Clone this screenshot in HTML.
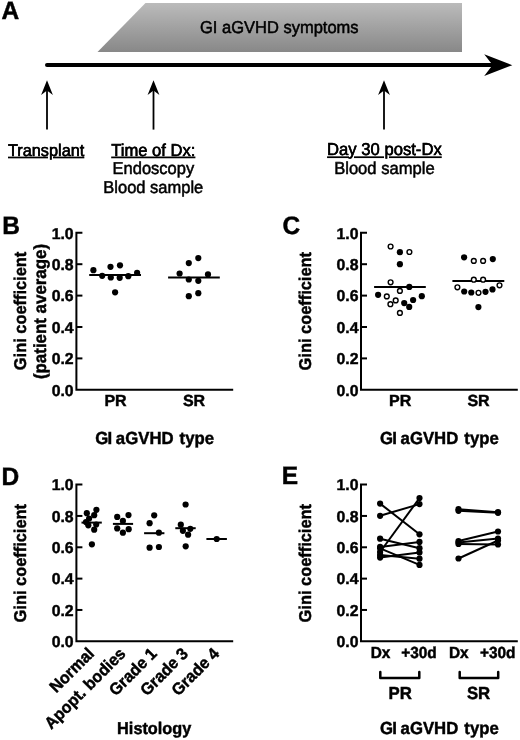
<!DOCTYPE html>
<html><head><meta charset="utf-8"><style>
html,body{margin:0;padding:0;background:#fff;width:520px;height:740px;overflow:hidden;font-family:"Liberation Sans",sans-serif;}
svg{display:block;filter:grayscale(1);}
</style></head><body>
<svg width="520" height="740" viewBox="0 0 520 740"><text transform="translate(1.40,19.00) scale(1,1.03)" font-family="Liberation Sans, sans-serif" text-rendering="geometricPrecision" font-size="24.5" font-weight="bold" text-anchor="start" stroke="#000" stroke-width="0.45">A</text>
<defs><linearGradient id="g" x1="0" y1="0" x2="0" y2="1"><stop offset="0" stop-color="#bbbbbb"/><stop offset="1" stop-color="#888888"/></linearGradient></defs>
<polygon points="145.5,3 462,3 462,52 97.5,52" fill="url(#g)"/>
<text transform="translate(200.00,32.70) scale(1,1.04)" font-family="Liberation Sans, sans-serif" text-rendering="geometricPrecision" font-size="16.5" text-anchor="start" stroke="#000" stroke-width="0.5">GI aGVHD symptoms</text>
<line x1="47" y1="65" x2="494" y2="65" stroke="#000" stroke-width="4" stroke-linecap="round"/>
<polygon points="484.2,54.3 512.3,65.2 484.2,76 492.6,65.1" fill="#000"/>
<line x1="47" y1="90" x2="47" y2="129.6" stroke="#000" stroke-width="1.8"/>
<polygon points="47,80.3 52.9,95 47,90.5 41.1,95" fill="#000"/>
<line x1="153.5" y1="90" x2="153.5" y2="129.6" stroke="#000" stroke-width="1.8"/>
<polygon points="153.5,80.3 159.4,95 153.5,90.5 147.6,95" fill="#000"/>
<line x1="384" y1="90" x2="384" y2="129.6" stroke="#000" stroke-width="1.8"/>
<polygon points="384,80.3 389.9,95 384,90.5 378.1,95" fill="#000"/>
<text transform="translate(8.00,155.60) scale(1,1.04)" font-family="Liberation Sans, sans-serif" text-rendering="geometricPrecision" font-size="16.3" text-anchor="start" stroke="#000" stroke-width="0.5">Transplant</text>
<text transform="translate(8.00,155.60) scale(1,1.04)" font-family="Liberation Sans, sans-serif" text-rendering="geometricPrecision" font-size="16.3" text-anchor="start" text-decoration="underline">Transplant</text>
<text transform="translate(153.30,155.50) scale(1,1.04)" font-family="Liberation Sans, sans-serif" text-rendering="geometricPrecision" font-size="16.6" text-anchor="middle" stroke="#000" stroke-width="0.5">Time of Dx:</text>
<text transform="translate(153.30,155.50) scale(1,1.04)" font-family="Liberation Sans, sans-serif" text-rendering="geometricPrecision" font-size="16.6" text-anchor="middle" text-decoration="underline">Time of Dx:</text>
<text transform="translate(153.40,174.40) scale(1,1.04)" font-family="Liberation Sans, sans-serif" text-rendering="geometricPrecision" font-size="16.5" text-anchor="middle" stroke="#000" stroke-width="0.5">Endoscopy</text>
<text transform="translate(153.30,193.20) scale(1,1.04)" font-family="Liberation Sans, sans-serif" text-rendering="geometricPrecision" font-size="16.5" text-anchor="middle" stroke="#000" stroke-width="0.5">Blood sample</text>
<text transform="translate(384.40,155.30) scale(1,1.04)" font-family="Liberation Sans, sans-serif" text-rendering="geometricPrecision" font-size="16.65" text-anchor="middle" stroke="#000" stroke-width="0.5">Day 30 post-Dx</text>
<text transform="translate(384.40,155.30) scale(1,1.04)" font-family="Liberation Sans, sans-serif" text-rendering="geometricPrecision" font-size="16.65" text-anchor="middle" text-decoration="underline">Day 30 post-Dx</text>
<text transform="translate(384.40,174.30) scale(1,1.04)" font-family="Liberation Sans, sans-serif" text-rendering="geometricPrecision" font-size="16.6" text-anchor="middle" stroke="#000" stroke-width="0.5">Blood sample</text>
<text transform="translate(2.26,233.50) scale(1,1.03)" font-family="Liberation Sans, sans-serif" text-rendering="geometricPrecision" font-size="24.5" font-weight="bold" text-anchor="start" stroke="#000" stroke-width="0.45">B</text>
<path d="M82.4,232.8 H76.4 V389.8 H233.2" fill="none" stroke="#000" stroke-width="2"/>
<line x1="76.4" y1="264.20" x2="82.4" y2="264.20" stroke="#000" stroke-width="2"/>
<line x1="76.4" y1="295.60" x2="82.4" y2="295.60" stroke="#000" stroke-width="2"/>
<line x1="76.4" y1="327.00" x2="82.4" y2="327.00" stroke="#000" stroke-width="2"/>
<line x1="76.4" y1="358.40" x2="82.4" y2="358.40" stroke="#000" stroke-width="2"/>
<text transform="translate(73.60,238.60)" font-family="Liberation Sans, sans-serif" text-rendering="geometricPrecision" font-size="15.8" font-weight="bold" text-anchor="end" stroke="#000" stroke-width="0.45">1.0</text>
<text transform="translate(73.60,270.00)" font-family="Liberation Sans, sans-serif" text-rendering="geometricPrecision" font-size="15.8" font-weight="bold" text-anchor="end" stroke="#000" stroke-width="0.45">0.8</text>
<text transform="translate(73.60,301.40)" font-family="Liberation Sans, sans-serif" text-rendering="geometricPrecision" font-size="15.8" font-weight="bold" text-anchor="end" stroke="#000" stroke-width="0.45">0.6</text>
<text transform="translate(73.60,332.80)" font-family="Liberation Sans, sans-serif" text-rendering="geometricPrecision" font-size="15.8" font-weight="bold" text-anchor="end" stroke="#000" stroke-width="0.45">0.4</text>
<text transform="translate(73.60,364.20)" font-family="Liberation Sans, sans-serif" text-rendering="geometricPrecision" font-size="15.8" font-weight="bold" text-anchor="end" stroke="#000" stroke-width="0.45">0.2</text>
<text transform="translate(73.60,395.60)" font-family="Liberation Sans, sans-serif" text-rendering="geometricPrecision" font-size="15.8" font-weight="bold" text-anchor="end" stroke="#000" stroke-width="0.45">0.0</text>
<text transform="translate(25.90,310.95) rotate(-90) scale(1,1.04)" font-family="Liberation Sans, sans-serif" text-rendering="geometricPrecision" font-size="16.4" font-weight="bold" text-anchor="middle" stroke="#000" stroke-width="0.45">Gini coefficient</text>
<text transform="translate(46.20,311.50) rotate(-90) scale(1,1.04)" font-family="Liberation Sans, sans-serif" text-rendering="geometricPrecision" font-size="16.9" font-weight="bold" text-anchor="middle" stroke="#000" stroke-width="0.45">(patient average)</text>
<line x1="89.2" y1="275.0" x2="141" y2="275.0" stroke="#000" stroke-width="2"/>
<circle cx="93.4" cy="270.2" r="3.1" fill="#000"/>
<circle cx="102.2" cy="275.8" r="3.1" fill="#000"/>
<circle cx="110.5" cy="266.8" r="3.1" fill="#000"/>
<circle cx="110.8" cy="277.5" r="3.1" fill="#000"/>
<circle cx="115.1" cy="292.3" r="3.1" fill="#000"/>
<circle cx="120.0" cy="265.3" r="3.1" fill="#000"/>
<circle cx="119.7" cy="277.8" r="3.1" fill="#000"/>
<circle cx="128.3" cy="276.2" r="3.1" fill="#000"/>
<circle cx="137.1" cy="272.8" r="3.1" fill="#000"/>
<line x1="168.1" y1="277.4" x2="219.8" y2="277.4" stroke="#000" stroke-width="2"/>
<circle cx="179.6" cy="273.5" r="3.1" fill="#000"/>
<circle cx="188.8" cy="263.1" r="3.1" fill="#000"/>
<circle cx="188.8" cy="279.5" r="3.1" fill="#000"/>
<circle cx="188.8" cy="296.2" r="3.1" fill="#000"/>
<circle cx="198.3" cy="258.1" r="3.1" fill="#000"/>
<circle cx="198.3" cy="280.8" r="3.1" fill="#000"/>
<circle cx="198.3" cy="293.2" r="3.1" fill="#000"/>
<circle cx="208.0" cy="274.4" r="3.1" fill="#000"/>
<text transform="translate(115.50,406.20)" font-family="Liberation Sans, sans-serif" text-rendering="geometricPrecision" font-size="16" font-weight="bold" text-anchor="middle" stroke="#000" stroke-width="0.45">PR</text>
<text transform="translate(194.00,406.20)" font-family="Liberation Sans, sans-serif" text-rendering="geometricPrecision" font-size="16" font-weight="bold" text-anchor="middle" stroke="#000" stroke-width="0.45">SR</text>
<text transform="translate(154.70,443.90) scale(1,1.04)" font-family="Liberation Sans, sans-serif" text-rendering="geometricPrecision" font-size="16.75" font-weight="bold" text-anchor="middle" stroke="#000" stroke-width="0.45">G<tspan dx="-0.8">I</tspan><tspan dx="-1.0"> aGVHD</tspan><tspan dx="1.4"> type</tspan></text>
<text transform="translate(282.50,233.60) scale(1,1.03)" font-family="Liberation Sans, sans-serif" text-rendering="geometricPrecision" font-size="24.5" font-weight="bold" text-anchor="start" stroke="#000" stroke-width="0.45">C</text>
<path d="M367,232.8 H361 V389.8 H517.8" fill="none" stroke="#000" stroke-width="2"/>
<line x1="361" y1="264.20" x2="367" y2="264.20" stroke="#000" stroke-width="2"/>
<line x1="361" y1="295.60" x2="367" y2="295.60" stroke="#000" stroke-width="2"/>
<line x1="361" y1="327.00" x2="367" y2="327.00" stroke="#000" stroke-width="2"/>
<line x1="361" y1="358.40" x2="367" y2="358.40" stroke="#000" stroke-width="2"/>
<text transform="translate(358.50,238.60)" font-family="Liberation Sans, sans-serif" text-rendering="geometricPrecision" font-size="15.8" font-weight="bold" text-anchor="end" stroke="#000" stroke-width="0.45">1.0</text>
<text transform="translate(358.50,270.00)" font-family="Liberation Sans, sans-serif" text-rendering="geometricPrecision" font-size="15.8" font-weight="bold" text-anchor="end" stroke="#000" stroke-width="0.45">0.8</text>
<text transform="translate(358.50,301.40)" font-family="Liberation Sans, sans-serif" text-rendering="geometricPrecision" font-size="15.8" font-weight="bold" text-anchor="end" stroke="#000" stroke-width="0.45">0.6</text>
<text transform="translate(358.50,332.80)" font-family="Liberation Sans, sans-serif" text-rendering="geometricPrecision" font-size="15.8" font-weight="bold" text-anchor="end" stroke="#000" stroke-width="0.45">0.4</text>
<text transform="translate(358.50,364.20)" font-family="Liberation Sans, sans-serif" text-rendering="geometricPrecision" font-size="15.8" font-weight="bold" text-anchor="end" stroke="#000" stroke-width="0.45">0.2</text>
<text transform="translate(358.50,395.60)" font-family="Liberation Sans, sans-serif" text-rendering="geometricPrecision" font-size="15.8" font-weight="bold" text-anchor="end" stroke="#000" stroke-width="0.45">0.0</text>
<text transform="translate(310.90,311.20) rotate(-90) scale(1,1.04)" font-family="Liberation Sans, sans-serif" text-rendering="geometricPrecision" font-size="16.4" font-weight="bold" text-anchor="middle" stroke="#000" stroke-width="0.45">Gini coefficient</text>
<line x1="374.1" y1="286.9" x2="425.8" y2="286.9" stroke="#000" stroke-width="2"/>
<circle cx="399.9" cy="252.2" r="3.1" fill="#000"/>
<circle cx="399.9" cy="264.2" r="3.1" fill="#000"/>
<circle cx="409.3" cy="286.9" r="3.1" fill="#000"/>
<circle cx="378.1" cy="294.8" r="3.1" fill="#000"/>
<circle cx="421.8" cy="296.2" r="3.1" fill="#000"/>
<circle cx="413.1" cy="300.0" r="3.1" fill="#000"/>
<circle cx="404.2" cy="303.1" r="3.1" fill="#000"/>
<circle cx="409.2" cy="306.9" r="3.1" fill="#000"/>
<circle cx="390.6" cy="246.5" r="2.4" fill="#fff" stroke="#000" stroke-width="1.4"/>
<circle cx="409.4" cy="252.0" r="2.4" fill="#fff" stroke="#000" stroke-width="1.4"/>
<circle cx="390.6" cy="282.3" r="2.4" fill="#fff" stroke="#000" stroke-width="1.4"/>
<circle cx="399.9" cy="290.9" r="2.4" fill="#fff" stroke="#000" stroke-width="1.4"/>
<circle cx="386.8" cy="296.4" r="2.4" fill="#fff" stroke="#000" stroke-width="1.4"/>
<circle cx="395.7" cy="300.4" r="2.4" fill="#fff" stroke="#000" stroke-width="1.4"/>
<circle cx="390.4" cy="304.2" r="2.4" fill="#fff" stroke="#000" stroke-width="1.4"/>
<circle cx="399.9" cy="312.9" r="2.4" fill="#fff" stroke="#000" stroke-width="1.4"/>
<line x1="452.4" y1="281.0" x2="504.3" y2="281.0" stroke="#000" stroke-width="2"/>
<circle cx="464.1" cy="257.3" r="3.1" fill="#000"/>
<circle cx="492.8" cy="259.1" r="3.1" fill="#000"/>
<circle cx="464.2" cy="291.5" r="3.1" fill="#000"/>
<circle cx="471.3" cy="292.5" r="3.1" fill="#000"/>
<circle cx="485.5" cy="291.8" r="3.1" fill="#000"/>
<circle cx="492.5" cy="289.4" r="3.1" fill="#000"/>
<circle cx="478.4" cy="307.1" r="3.1" fill="#000"/>
<circle cx="473.8" cy="260.9" r="2.4" fill="#fff" stroke="#000" stroke-width="1.4"/>
<circle cx="483.1" cy="260.9" r="2.4" fill="#fff" stroke="#000" stroke-width="1.4"/>
<circle cx="473.8" cy="279.7" r="2.4" fill="#fff" stroke="#000" stroke-width="1.4"/>
<circle cx="483.1" cy="279.7" r="2.4" fill="#fff" stroke="#000" stroke-width="1.4"/>
<circle cx="457.4" cy="287.3" r="2.4" fill="#fff" stroke="#000" stroke-width="1.4"/>
<circle cx="478.5" cy="292.8" r="2.4" fill="#fff" stroke="#000" stroke-width="1.4"/>
<circle cx="499.5" cy="285.3" r="2.4" fill="#fff" stroke="#000" stroke-width="1.4"/>
<text transform="translate(400.10,406.20)" font-family="Liberation Sans, sans-serif" text-rendering="geometricPrecision" font-size="16" font-weight="bold" text-anchor="middle" stroke="#000" stroke-width="0.45">PR</text>
<text transform="translate(478.50,406.20)" font-family="Liberation Sans, sans-serif" text-rendering="geometricPrecision" font-size="16" font-weight="bold" text-anchor="middle" stroke="#000" stroke-width="0.45">SR</text>
<text transform="translate(439.40,443.90) scale(1,1.04)" font-family="Liberation Sans, sans-serif" text-rendering="geometricPrecision" font-size="16.75" font-weight="bold" text-anchor="middle" stroke="#000" stroke-width="0.45">G<tspan dx="-0.8">I</tspan><tspan dx="-1.0"> aGVHD</tspan><tspan dx="1.4"> type</tspan></text>
<text transform="translate(1.56,485.40) scale(1,1.03)" font-family="Liberation Sans, sans-serif" text-rendering="geometricPrecision" font-size="24.5" font-weight="bold" text-anchor="start" stroke="#000" stroke-width="0.45">D</text>
<path d="M82.4,484.6 H76.4 V641.3 H233.2" fill="none" stroke="#000" stroke-width="2"/>
<line x1="76.4" y1="515.94" x2="82.4" y2="515.94" stroke="#000" stroke-width="2"/>
<line x1="76.4" y1="547.28" x2="82.4" y2="547.28" stroke="#000" stroke-width="2"/>
<line x1="76.4" y1="578.62" x2="82.4" y2="578.62" stroke="#000" stroke-width="2"/>
<line x1="76.4" y1="609.96" x2="82.4" y2="609.96" stroke="#000" stroke-width="2"/>
<text transform="translate(73.60,490.40)" font-family="Liberation Sans, sans-serif" text-rendering="geometricPrecision" font-size="15.8" font-weight="bold" text-anchor="end" stroke="#000" stroke-width="0.45">1.0</text>
<text transform="translate(73.60,521.74)" font-family="Liberation Sans, sans-serif" text-rendering="geometricPrecision" font-size="15.8" font-weight="bold" text-anchor="end" stroke="#000" stroke-width="0.45">0.8</text>
<text transform="translate(73.60,553.08)" font-family="Liberation Sans, sans-serif" text-rendering="geometricPrecision" font-size="15.8" font-weight="bold" text-anchor="end" stroke="#000" stroke-width="0.45">0.6</text>
<text transform="translate(73.60,584.42)" font-family="Liberation Sans, sans-serif" text-rendering="geometricPrecision" font-size="15.8" font-weight="bold" text-anchor="end" stroke="#000" stroke-width="0.45">0.4</text>
<text transform="translate(73.60,615.76)" font-family="Liberation Sans, sans-serif" text-rendering="geometricPrecision" font-size="15.8" font-weight="bold" text-anchor="end" stroke="#000" stroke-width="0.45">0.2</text>
<text transform="translate(73.60,647.10)" font-family="Liberation Sans, sans-serif" text-rendering="geometricPrecision" font-size="15.8" font-weight="bold" text-anchor="end" stroke="#000" stroke-width="0.45">0.0</text>
<text transform="translate(25.70,563.20) rotate(-90) scale(1,1.04)" font-family="Liberation Sans, sans-serif" text-rendering="geometricPrecision" font-size="16.4" font-weight="bold" text-anchor="middle" stroke="#000" stroke-width="0.45">Gini coefficient</text>
<line x1="81.5" y1="522.6" x2="101.8" y2="522.6" stroke="#000" stroke-width="2"/>
<circle cx="96.4" cy="509.8" r="3.1" fill="#000"/>
<circle cx="86.8" cy="513.2" r="3.1" fill="#000"/>
<circle cx="94.2" cy="515.2" r="3.1" fill="#000"/>
<circle cx="89.1" cy="518.6" r="3.1" fill="#000"/>
<circle cx="86.0" cy="522.0" r="3.1" fill="#000"/>
<circle cx="88.3" cy="525.3" r="3.1" fill="#000"/>
<circle cx="96.2" cy="524.5" r="3.1" fill="#000"/>
<circle cx="94.2" cy="529.7" r="3.1" fill="#000"/>
<circle cx="91.9" cy="544.3" r="3.1" fill="#000"/>
<line x1="112.9" y1="523.9" x2="133.1" y2="523.9" stroke="#000" stroke-width="2"/>
<circle cx="117.2" cy="516.9" r="3.1" fill="#000"/>
<circle cx="128.5" cy="515.1" r="3.1" fill="#000"/>
<circle cx="122.9" cy="520.9" r="3.1" fill="#000"/>
<circle cx="117.2" cy="528.4" r="3.1" fill="#000"/>
<circle cx="122.9" cy="532.7" r="3.1" fill="#000"/>
<circle cx="128.7" cy="529.2" r="3.1" fill="#000"/>
<line x1="144.1" y1="533.2" x2="164.4" y2="533.2" stroke="#000" stroke-width="2"/>
<circle cx="154.2" cy="515.3" r="3.1" fill="#000"/>
<circle cx="149.6" cy="523.2" r="3.1" fill="#000"/>
<circle cx="158.9" cy="532.7" r="3.1" fill="#000"/>
<circle cx="149.6" cy="547.7" r="3.1" fill="#000"/>
<circle cx="158.9" cy="547.0" r="3.1" fill="#000"/>
<line x1="175.3" y1="528.2" x2="195.7" y2="528.2" stroke="#000" stroke-width="2"/>
<circle cx="185.6" cy="504.5" r="3.1" fill="#000"/>
<circle cx="180.8" cy="524.7" r="3.1" fill="#000"/>
<circle cx="182.9" cy="530.8" r="3.1" fill="#000"/>
<circle cx="190.3" cy="528.8" r="3.1" fill="#000"/>
<circle cx="188.1" cy="534.7" r="3.1" fill="#000"/>
<circle cx="185.7" cy="546.3" r="3.1" fill="#000"/>
<line x1="206.4" y1="539.0" x2="226.9" y2="539.0" stroke="#000" stroke-width="2"/>
<circle cx="216.7" cy="539.0" r="3.1" fill="#000"/>
<text transform="translate(95.20,654.60) rotate(-45) scale(1,1.04)" font-family="Liberation Sans, sans-serif" text-rendering="geometricPrecision" font-size="16" font-weight="bold" text-anchor="end" stroke="#000" stroke-width="0.45">Normal</text>
<text transform="translate(126.60,654.60) rotate(-45) scale(1,1.04)" font-family="Liberation Sans, sans-serif" text-rendering="geometricPrecision" font-size="16" font-weight="bold" text-anchor="end" stroke="#000" stroke-width="0.45">Apopt. bodies</text>
<text transform="translate(157.90,654.60) rotate(-45) scale(1,1.04)" font-family="Liberation Sans, sans-serif" text-rendering="geometricPrecision" font-size="16" font-weight="bold" text-anchor="end" stroke="#000" stroke-width="0.45">Grade 1</text>
<text transform="translate(189.10,654.60) rotate(-45) scale(1,1.04)" font-family="Liberation Sans, sans-serif" text-rendering="geometricPrecision" font-size="16" font-weight="bold" text-anchor="end" stroke="#000" stroke-width="0.45">Grade 3</text>
<text transform="translate(220.30,654.60) rotate(-45) scale(1,1.04)" font-family="Liberation Sans, sans-serif" text-rendering="geometricPrecision" font-size="16" font-weight="bold" text-anchor="end" stroke="#000" stroke-width="0.45">Grade 4</text>
<text transform="translate(154.20,733.60) scale(1,1.04)" font-family="Liberation Sans, sans-serif" text-rendering="geometricPrecision" font-size="16.3" font-weight="bold" text-anchor="middle" stroke="#000" stroke-width="0.45">Histology</text>
<text transform="translate(281.86,483.90) scale(1,1.03)" font-family="Liberation Sans, sans-serif" text-rendering="geometricPrecision" font-size="24.5" font-weight="bold" text-anchor="start" stroke="#000" stroke-width="0.45">E</text>
<path d="M367,484.6 H361 V641.3 H517.8" fill="none" stroke="#000" stroke-width="2"/>
<line x1="361" y1="515.94" x2="367" y2="515.94" stroke="#000" stroke-width="2"/>
<line x1="361" y1="547.28" x2="367" y2="547.28" stroke="#000" stroke-width="2"/>
<line x1="361" y1="578.62" x2="367" y2="578.62" stroke="#000" stroke-width="2"/>
<line x1="361" y1="609.96" x2="367" y2="609.96" stroke="#000" stroke-width="2"/>
<text transform="translate(358.50,490.40)" font-family="Liberation Sans, sans-serif" text-rendering="geometricPrecision" font-size="15.8" font-weight="bold" text-anchor="end" stroke="#000" stroke-width="0.45">1.0</text>
<text transform="translate(358.50,521.74)" font-family="Liberation Sans, sans-serif" text-rendering="geometricPrecision" font-size="15.8" font-weight="bold" text-anchor="end" stroke="#000" stroke-width="0.45">0.8</text>
<text transform="translate(358.50,553.08)" font-family="Liberation Sans, sans-serif" text-rendering="geometricPrecision" font-size="15.8" font-weight="bold" text-anchor="end" stroke="#000" stroke-width="0.45">0.6</text>
<text transform="translate(358.50,584.42)" font-family="Liberation Sans, sans-serif" text-rendering="geometricPrecision" font-size="15.8" font-weight="bold" text-anchor="end" stroke="#000" stroke-width="0.45">0.4</text>
<text transform="translate(358.50,615.76)" font-family="Liberation Sans, sans-serif" text-rendering="geometricPrecision" font-size="15.8" font-weight="bold" text-anchor="end" stroke="#000" stroke-width="0.45">0.2</text>
<text transform="translate(358.50,647.10)" font-family="Liberation Sans, sans-serif" text-rendering="geometricPrecision" font-size="15.8" font-weight="bold" text-anchor="end" stroke="#000" stroke-width="0.45">0.0</text>
<text transform="translate(310.60,563.20) rotate(-90) scale(1,1.04)" font-family="Liberation Sans, sans-serif" text-rendering="geometricPrecision" font-size="16.4" font-weight="bold" text-anchor="middle" stroke="#000" stroke-width="0.45">Gini coefficient</text>
<line x1="380.1" y1="503.6" x2="419.5" y2="534.3" stroke="#000" stroke-width="2"/>
<line x1="380.1" y1="515.8" x2="419.5" y2="504.1" stroke="#000" stroke-width="2"/>
<line x1="380.1" y1="552.0" x2="419.5" y2="498.1" stroke="#000" stroke-width="2"/>
<line x1="380.1" y1="538.7" x2="419.5" y2="548.2" stroke="#000" stroke-width="2"/>
<line x1="380.1" y1="546.9" x2="419.5" y2="541.9" stroke="#000" stroke-width="2"/>
<line x1="380.1" y1="548.3" x2="419.5" y2="564.9" stroke="#000" stroke-width="2"/>
<line x1="380.1" y1="557.6" x2="419.5" y2="552.4" stroke="#000" stroke-width="2"/>
<line x1="380.1" y1="555.0" x2="419.5" y2="558.7" stroke="#000" stroke-width="2"/>
<circle cx="380.1" cy="503.6" r="3.1" fill="#000"/>
<circle cx="419.5" cy="534.3" r="3.1" fill="#000"/>
<circle cx="380.1" cy="515.8" r="3.1" fill="#000"/>
<circle cx="419.5" cy="504.1" r="3.1" fill="#000"/>
<circle cx="380.1" cy="552.0" r="3.1" fill="#000"/>
<circle cx="419.5" cy="498.1" r="3.1" fill="#000"/>
<circle cx="380.1" cy="538.7" r="3.1" fill="#000"/>
<circle cx="419.5" cy="548.2" r="3.1" fill="#000"/>
<circle cx="380.1" cy="546.9" r="3.1" fill="#000"/>
<circle cx="419.5" cy="541.9" r="3.1" fill="#000"/>
<circle cx="380.1" cy="548.3" r="3.1" fill="#000"/>
<circle cx="419.5" cy="564.9" r="3.1" fill="#000"/>
<circle cx="380.1" cy="557.6" r="3.1" fill="#000"/>
<circle cx="419.5" cy="552.4" r="3.1" fill="#000"/>
<circle cx="380.1" cy="555.0" r="3.1" fill="#000"/>
<circle cx="419.5" cy="558.7" r="3.1" fill="#000"/>
<line x1="458.5" y1="509.2" x2="498.0" y2="512.2" stroke="#000" stroke-width="2"/>
<line x1="458.5" y1="510.8" x2="498.0" y2="512.8" stroke="#000" stroke-width="2"/>
<line x1="458.5" y1="541.0" x2="498.0" y2="531.5" stroke="#000" stroke-width="2"/>
<line x1="458.5" y1="542.5" x2="498.0" y2="538.5" stroke="#000" stroke-width="2"/>
<line x1="458.5" y1="544.0" x2="498.0" y2="544.5" stroke="#000" stroke-width="2"/>
<line x1="458.5" y1="558.5" x2="498.0" y2="540.5" stroke="#000" stroke-width="2"/>
<circle cx="458.5" cy="509.2" r="3.1" fill="#000"/>
<circle cx="498.0" cy="512.2" r="3.1" fill="#000"/>
<circle cx="458.5" cy="510.8" r="3.1" fill="#000"/>
<circle cx="498.0" cy="512.8" r="3.1" fill="#000"/>
<circle cx="458.5" cy="541.0" r="3.1" fill="#000"/>
<circle cx="498.0" cy="531.5" r="3.1" fill="#000"/>
<circle cx="458.5" cy="542.5" r="3.1" fill="#000"/>
<circle cx="498.0" cy="538.5" r="3.1" fill="#000"/>
<circle cx="458.5" cy="544.0" r="3.1" fill="#000"/>
<circle cx="498.0" cy="544.5" r="3.1" fill="#000"/>
<circle cx="458.5" cy="558.5" r="3.1" fill="#000"/>
<circle cx="498.0" cy="540.5" r="3.1" fill="#000"/>
<text transform="translate(380.50,658.30) scale(1,1.04)" font-family="Liberation Sans, sans-serif" text-rendering="geometricPrecision" font-size="15.4" font-weight="bold" text-anchor="middle" stroke="#000" stroke-width="0.45">Dx</text>
<text transform="translate(418.90,658.30) scale(1,1.04)" font-family="Liberation Sans, sans-serif" text-rendering="geometricPrecision" font-size="15.4" font-weight="bold" text-anchor="middle" stroke="#000" stroke-width="0.45">+30d</text>
<text transform="translate(458.80,658.30) scale(1,1.04)" font-family="Liberation Sans, sans-serif" text-rendering="geometricPrecision" font-size="15.4" font-weight="bold" text-anchor="middle" stroke="#000" stroke-width="0.45">Dx</text>
<text transform="translate(497.70,658.30) scale(1,1.04)" font-family="Liberation Sans, sans-serif" text-rendering="geometricPrecision" font-size="15.4" font-weight="bold" text-anchor="middle" stroke="#000" stroke-width="0.45">+30d</text>
<path d="M380.3,671.9 V678 H419.3 V671.9" fill="none" stroke="#000" stroke-width="2.5" stroke-linejoin="round" stroke-linecap="round"/>
<path d="M459.7,671.9 V678 H498.2 V671.9" fill="none" stroke="#000" stroke-width="2.5" stroke-linejoin="round" stroke-linecap="round"/>
<text transform="translate(400.15,698.50) scale(1,1.04)" font-family="Liberation Sans, sans-serif" text-rendering="geometricPrecision" font-size="16.8" font-weight="bold" text-anchor="middle" stroke="#000" stroke-width="0.45">PR</text>
<text transform="translate(478.55,698.50) scale(1,1.04)" font-family="Liberation Sans, sans-serif" text-rendering="geometricPrecision" font-size="16.8" font-weight="bold" text-anchor="middle" stroke="#000" stroke-width="0.45">SR</text>
<text transform="translate(439.40,734.10) scale(1,1.04)" font-family="Liberation Sans, sans-serif" text-rendering="geometricPrecision" font-size="16.75" font-weight="bold" text-anchor="middle" stroke="#000" stroke-width="0.45">G<tspan dx="-0.8">I</tspan><tspan dx="-1.0"> aGVHD</tspan><tspan dx="1.4"> type</tspan></text></svg>
</body></html>
